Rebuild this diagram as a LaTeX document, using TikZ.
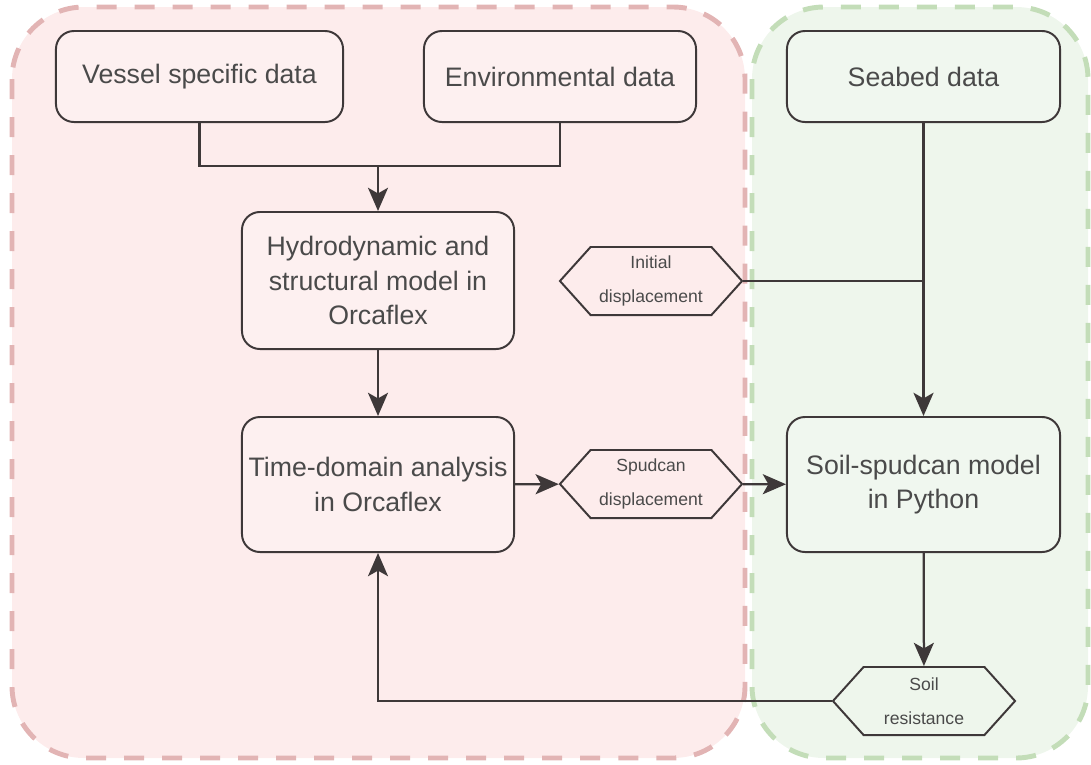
\documentclass[tikz,border=0pt]{standalone}
\usepackage{fontspec}
\setmainfont{Liberation Sans}
\usetikzlibrary{positioning,shapes.symbols,arrows.meta}
\definecolor{regred}{HTML}{FDECEC}
\definecolor{regredline}{HTML}{E2B4B4}
\definecolor{reggreen}{HTML}{EEF6EC}
\definecolor{reggreenline}{HTML}{C3DDB8}
\definecolor{boxred}{HTML}{FDF0F0}
\definecolor{boxgreen}{HTML}{F0F7EF}
\definecolor{lineclr}{HTML}{3E3839}
\definecolor{txtclr}{HTML}{4A4A4A}
\begin{document}
\begin{tikzpicture}[
    x=0.025cm, y=-0.025cm,
    region/.style={draw, dashed, line width=3.5pt, dash pattern=on 0.5cm off 0.45cm, rounded corners=1.8cm},
    box/.style={rectangle, draw=lineclr, line width=1.4pt, rounded corners=0.45cm, fill=boxred, text=txtclr, align=center, font=\fontsize{19}{24.5}\selectfont, inner sep=2pt},
    hexa/.style={signal, signal to=west and east, signal pointer angle=96, draw=lineclr, line width=1.4pt, text=txtclr, align=center, font=\fontsize{12.5}{24}\selectfont, inner sep=1pt, minimum height=1.7cm, text width=2.95cm},
    arrow/.style={-{Stealth[length=0.58cm, width=0.5cm, inset=0.14cm]}, line width=1.6pt, draw=lineclr},
    link/.style={line width=1.6pt, draw=lineclr}
]
    \useasboundingbox (0,0) rectangle (1091,764);
    % regions
    \draw[region, draw=regredline, fill=regred] (12,7) rectangle (745,758);
    \draw[region, draw=reggreenline, fill=reggreen] (752,7) rectangle (1088,758);

    % boxes
    \node[box, minimum width=7.175cm, minimum height=2.275cm] (vessel) at (199.5,76.5) {Vessel specific data};
    \node[box, minimum width=6.8cm, minimum height=2.275cm] (env) at (560,76.5) {Environmental data};
    \node[box, fill=boxgreen, minimum width=6.825cm, minimum height=2.275cm] (seabed) at (923.5,76.5) {Seabed data};
    \node[box, minimum width=6.8cm, minimum height=3.425cm] (hydro) at (378,280.5) {Hydrodynamic and\\structural model in\\Orcaflex};
    \node[box, minimum width=6.8cm, minimum height=3.375cm] (timedom) at (378,484.5) {Time-domain analysis\\in Orcaflex};
    \node[box, fill=boxgreen, minimum width=6.825cm, minimum height=3.375cm] (soilmod) at (923.5,484.5) {Soil-spudcan model\\in Python};

    % exchanged quantities
    \node[hexa, fill=regred] (initdisp) at (651,281) {Initial\\displacement};
    \node[hexa, fill=regred] (spuddisp) at (651,484) {Spudcan\\displacement};
    \node[hexa, fill=reggreen] (soilres) at (924,701) {Soil\\resistance};

    % connectors
    \coordinate (join) at (378,166);
    \coordinate (meet) at (923.5,281);
    \draw[link] (vessel.south) |- (join) -| (env.south);
    \draw[arrow] (join) -- (hydro.north);
    \draw[arrow] (hydro) -- (timedom);
    \draw[arrow] (timedom) -- (spuddisp);
    \draw[arrow] (spuddisp) -- (soilmod);
    \draw[arrow] (seabed) -- (soilmod);
    \draw[link] (initdisp.east) -- (meet);
    \draw[arrow] (soilmod) -- (soilres);
    \draw[arrow] (soilres.west) -| (timedom.south);
\end{tikzpicture}
\end{document}
